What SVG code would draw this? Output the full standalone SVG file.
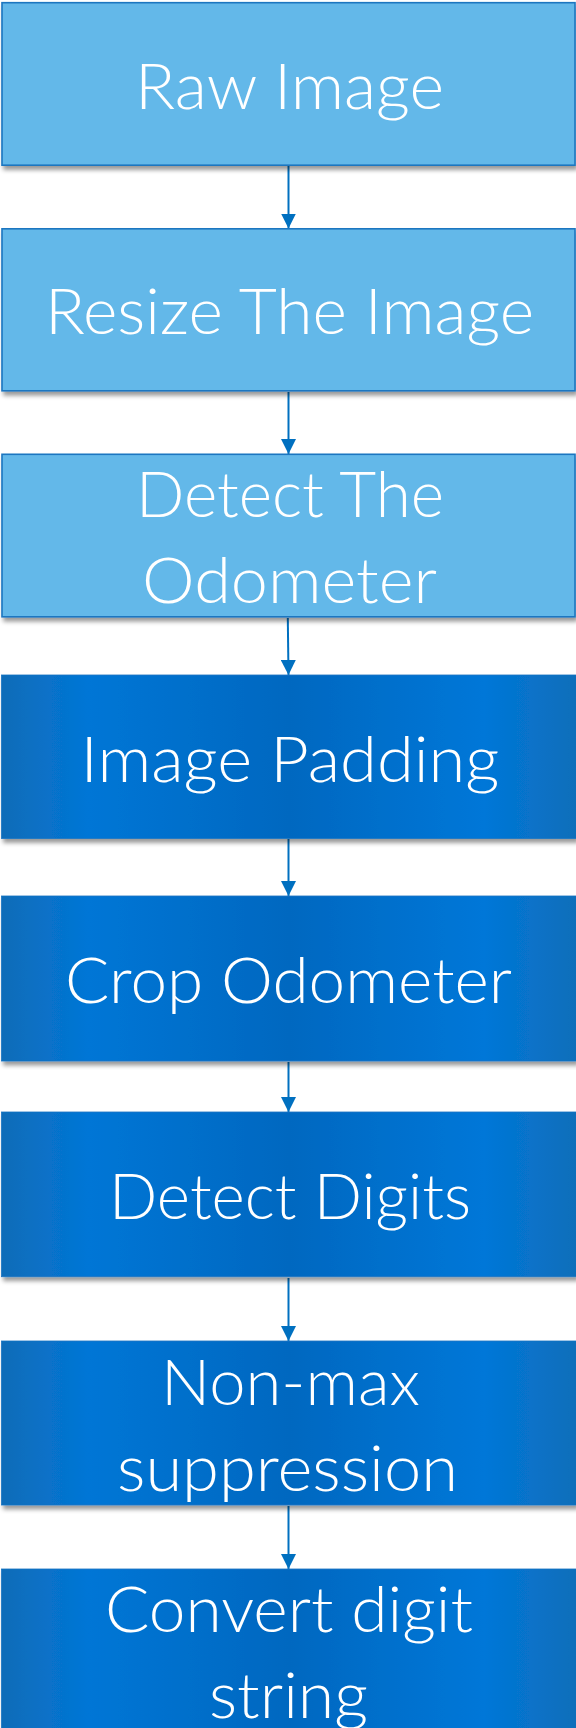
<svg xmlns="http://www.w3.org/2000/svg" width="576" height="1728" viewBox="0 0 576 1728">
  <style>
    .light { fill: #63b8e9; stroke: #1d76c0; stroke-width: 1.6; }
    .dark { fill: url(#darkFill); stroke: #1b74c2; stroke-width: 0.8; }
    .box { filter: url(#shadow); }
    .label { font-family: Lato, "Open Sans", "Liberation Sans", sans-serif; font-weight: 300; font-size: 63px; fill: #ffffff; text-anchor: middle; }
    .conn { stroke: #0070c0; stroke-width: 2; fill: none; marker-end: url(#arrow); }
  </style>
  <defs>
    <filter id="shadow" x="-5%" y="-10%" width="112%" height="125%">
      <feDropShadow dx="2" dy="4" stdDeviation="2" flood-color="#000000" flood-opacity="0.4"/>
    </filter>
    <linearGradient id="darkFill" x1="0" y1="0" x2="1" y2="0">
      <stop offset="0" stop-color="#0b6cb8"/>
      <stop offset="0.15" stop-color="#0476d6"/>
      <stop offset="0.5" stop-color="#0068c0"/>
      <stop offset="0.84" stop-color="#0477d8"/>
      <stop offset="1" stop-color="#0a6eba"/>
    </linearGradient>
    <marker id="arrow" viewBox="0 0 10 10" refX="10" refY="5" markerUnits="userSpaceOnUse" markerWidth="15" markerHeight="15" orient="auto">
      <path d="M0,0 L10,5 L0,10 Z" fill="#0070c0"/>
    </marker>
  </defs>

  <!-- connectors -->
  <g id="connectors">
    <line class="conn" x1="288.5" y1="166" x2="288.5" y2="228.5"/>
    <line class="conn" x1="288.5" y1="392" x2="288.5" y2="454"/>
    <line class="conn" x1="287.8" y1="618" x2="288.5" y2="675"/>
    <line class="conn" x1="288.5" y1="839" x2="288.5" y2="896"/>
    <line class="conn" x1="288.5" y1="1062" x2="288.5" y2="1112"/>
    <line class="conn" x1="288.5" y1="1278" x2="288.5" y2="1341"/>
    <line class="conn" x1="288.5" y1="1506" x2="288.5" y2="1569"/>
  </g>

  <g id="raw-image">
    <rect class="box light" x="2" y="2.7" width="573" height="162.5"/>
    <text class="label" x="289.5" y="109" textLength="309" lengthAdjust="spacingAndGlyphs">Raw Image</text>
  </g>

  <g id="resize-image">
    <rect class="box light" x="2" y="228.8" width="573" height="162"/>
    <text class="label" x="289.5" y="334" textLength="489" lengthAdjust="spacingAndGlyphs">Resize The Image</text>
  </g>

  <g id="detect-odometer">
    <rect class="box light" x="2" y="454.3" width="573" height="162.5"/>
    <text class="label" x="290" y="516.7" textLength="308" lengthAdjust="spacingAndGlyphs">Detect The</text>
    <text class="label" x="289.5" y="602.7" textLength="295" lengthAdjust="spacingAndGlyphs">Odometer</text>
  </g>

  <g id="image-padding">
    <rect class="box dark" x="1.5" y="675" width="575" height="163.5"/>
    <text class="label" x="290" y="782" textLength="419" lengthAdjust="spacingAndGlyphs">Image Padding</text>
  </g>

  <g id="crop-odometer">
    <rect class="box dark" x="1.5" y="896" width="575" height="165"/>
    <text class="label" x="288.5" y="1002.7" textLength="447" lengthAdjust="spacingAndGlyphs">Crop Odometer</text>
  </g>

  <g id="detect-digits">
    <rect class="box dark" x="1.5" y="1112" width="575" height="164.7"/>
    <text class="label" x="290" y="1219" textLength="362" lengthAdjust="spacingAndGlyphs">Detect Digits</text>
  </g>

  <g id="non-max-suppression">
    <rect class="box dark" x="1.5" y="1341" width="575" height="164"/>
    <text class="label" x="290.5" y="1405" textLength="259" lengthAdjust="spacingAndGlyphs">Non-max</text>
    <text class="label" x="287.5" y="1490.7" textLength="341" lengthAdjust="spacingAndGlyphs">suppression</text>
  </g>

  <g id="convert-digit-string">
    <rect class="box dark" x="1.5" y="1569" width="575" height="170"/>
    <text class="label" x="289" y="1632" textLength="368" lengthAdjust="spacingAndGlyphs">Convert digit</text>
    <text class="label" x="288.5" y="1718" textLength="159" lengthAdjust="spacingAndGlyphs">string</text>
  </g>
</svg>
